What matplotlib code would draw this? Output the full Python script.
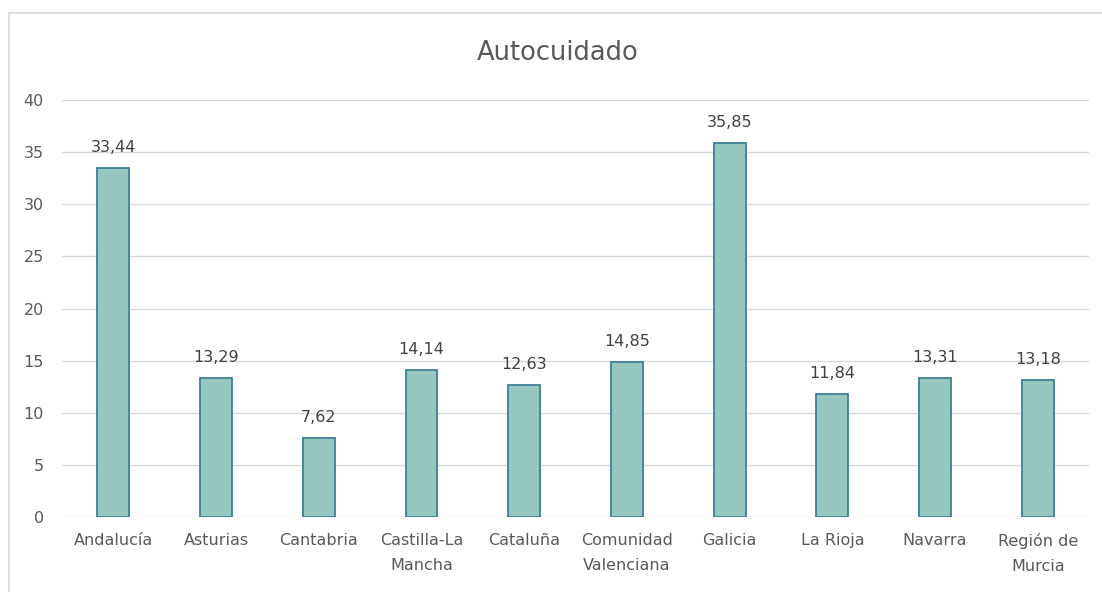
import numpy as np
import matplotlib.pyplot as plt
from matplotlib.patches import Rectangle

categorias = ['Andalucía', 'Asturias', 'Cantabria', 'Castilla-La\nMancha', 'Cataluña',
              'Comunidad\nValenciana', 'Galicia', 'La Rioja', 'Navarra', 'Región de\nMurcia']
valores = [33.44, 13.29, 7.62, 14.14, 12.63, 14.85, 35.85, 11.84, 13.31, 13.18]
yticks = [0, 5, 10, 15, 20, 25, 30, 35, 40]

plt.rcParams['font.family'] = ['DejaVu Sans']
gris = '#595959'

fig = plt.figure(figsize=(11.02, 5.92), dpi=100)
ax = fig.add_axes([0.0563, 0.1267, 0.932, 0.7043])

x = np.arange(len(categorias))
ax.bar(x, valores, width=0.31, color='#97c8bf', edgecolor='#3f7f97', linewidth=1.3, zorder=3)

for xi, v in zip(x, valores):
    ax.annotate('{:.2f}'.format(v).replace('.', ','), (xi, v), xytext=(0, 11.5),
                textcoords='offset points', ha='center', va='baseline', fontsize=11.5, color='#404040')

ax.set_xlim(-0.5, len(categorias) - 0.5)
ax.set_ylim(0, 40)
ax.set_yticks(yticks)
ax.set_xticks(x)
ax.set_xticklabels(categorias, fontsize=11.5, color=gris, linespacing=1.8)
ax.tick_params(axis='y', labelsize=11.5, labelcolor=gris, length=0, pad=13)
ax.tick_params(axis='x', length=0, pad=11.5)
ax.grid(axis='y', color='#d9d9d9', linewidth=1)
for s in ax.spines.values():
    s.set_visible(False)

fig.text(0.506, 1 - 60 / 592, 'Autocuidado', ha='center', va='baseline', fontsize=18.5, color=gris)

# borde del grafico
fig.patches.append(Rectangle((9 / 1102, -0.1), 1.2, 1 - 13 / 592 + 0.1, transform=fig.transFigure,
                             fill=False, edgecolor='#d9d9d9', linewidth=1.2))

fig.savefig('out.png', dpi=100)
